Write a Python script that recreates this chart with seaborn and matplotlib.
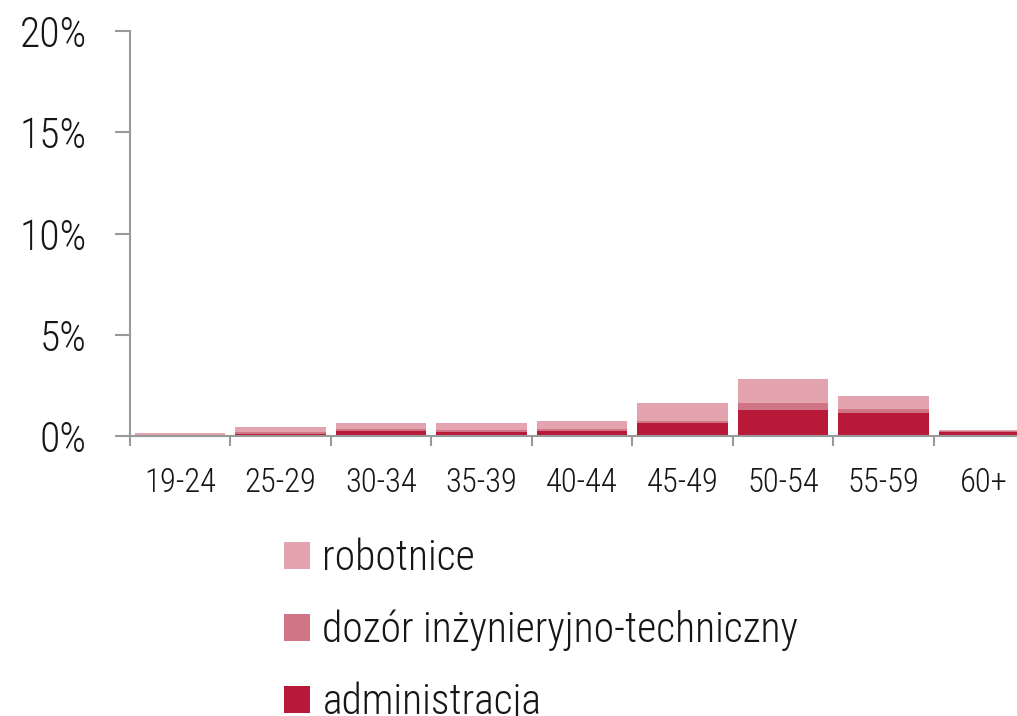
import pandas as pd
import numpy as np
import matplotlib
matplotlib.use('Agg')
import matplotlib.pyplot as plt
import seaborn as sns
from matplotlib.patches import Patch

# values (% of all employees)
age_groups = ['19-24', '25-29', '30-34', '35-39', '40-44', '45-49', '50-54', '55-59', '60+']
administracja = [0.03, 0.12, 0.25, 0.18, 0.23, 0.63, 1.30, 1.14, 0.21]
dozor = [0.03, 0.10, 0.08, 0.13, 0.10, 0.13, 0.33, 0.20, 0.04]
robotnice = [0.09, 0.22, 0.29, 0.33, 0.43, 0.89, 1.20, 0.62, 0.06]

labels = ['robotnice', 'dozór inżynieryjno-techniczny', 'administracja']
colors = ['#E3A3AF', '#D07585', '#B91939']

sns.set_style('white')
plt.rcParams['font.family'] = ['Roboto Condensed', 'DejaVu Sans']
plt.rcParams['font.weight'] = 300

df = pd.DataFrame({'age': age_groups, 'adm': administracja, 'doz': dozor, 'rob': robotnice})
df['l2'] = df['adm'] + df['doz']
df['l3'] = df['l2'] + df['rob']

W, H = 1017, 716
fig = plt.figure(figsize=(W / 100, H / 100), dpi=100)
ax = fig.add_axes([130 / W, (H - 436) / H, 904 / W, 405 / H])

# stacked look: draw cumulative totals from back to front
for col, c in zip(['l3', 'l2', 'adm'], colors):
    sns.barplot(data=df, x='age', y=col, color=c, width=0.9, ax=ax,
                saturation=1, linewidth=0)

ax.set_xlim(-0.5, 8.5)
ax.set_ylim(0, 20)
ax.set_yticks([0, 5, 10, 15, 20])
ax.set_yticklabels(['0%', '5%', '10%', '15%', '20%'], fontsize=30, color='#161616')
ax.set_xticks(np.arange(-0.5, 9, 1), minor=False)
ax.set_xticklabels([''] * 10)
ax.set_xticks(np.arange(9), minor=True)
ax.set_xticklabels(age_groups, minor=True, fontsize=23.5, color='#161616')
ax.tick_params(axis='x', which='major', length=7.5, width=1.5, color='#999999', direction='out', bottom=True)
ax.tick_params(axis='x', which='minor', length=0, pad=22)
ax.tick_params(axis='y', length=11, width=1.5, color='#999999', direction='out', left=True, pad=20)
ax.set_xlabel('')
ax.set_ylabel('')
sns.despine(ax=ax, top=True, right=True)
for s in ['left', 'bottom']:
    ax.spines[s].set_color('#999999')
    ax.spines[s].set_linewidth(1.5)

handles = [Patch(facecolor=c, edgecolor='none') for c in colors]
fig.legend(handles, labels, loc='upper left', bbox_to_anchor=(246 / W, 1 - 501 / H),
           frameon=False, fontsize=30, handlelength=0.625, handleheight=0.625,
           handletextpad=0.31, labelspacing=0.73, labelcolor='#161616')

fig.savefig('out.png', dpi=100)
